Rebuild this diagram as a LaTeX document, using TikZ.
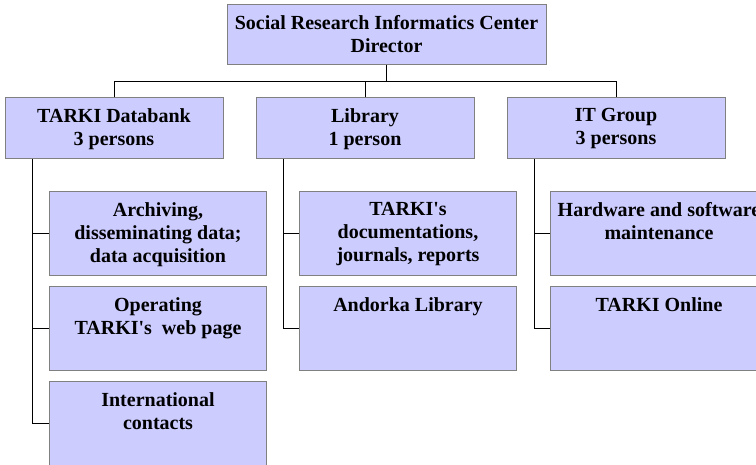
\documentclass[tikz,border=0pt]{standalone}
\usepackage{fontspec}
\setmainfont{Liberation Serif}
\definecolor{boxfill}{RGB}{204,204,255}
\definecolor{boxline}{RGB}{128,128,128}
\tikzset{
  unit/.style={draw=boxline, fill=boxfill, line width=1pt, minimum width=218pt, minimum height=61pt, inner sep=0pt},
  task/.style={unit, minimum width=217pt, minimum height=84pt},
  caption/.style={anchor=north, align=center, inner sep=0pt, yshift=-11.5pt, font=\fontsize{20}{23}\selectfont\bfseries},
  link/.style={line width=1pt, black}
}
\begin{document}
\begin{tikzpicture}[x=1pt, y=-1pt]
\clip (0,0) rectangle (756,464);
% head
\node[unit, minimum width=319pt, minimum height=60pt, label={[caption]north:Social Research Informatics Center\\Director}] (director) at (386.5,34) {};

% groups
\node[unit, label={[caption]north:TARKI Databank\\3 persons}] (databank) at (114,128) {};
\node[unit, label={[caption]north:Library\\1 person}] (library) at (365,128) {};
\node[unit, label={[caption]north:IT Group\\3 persons}] (itgroup) at (616,128) {};

% tasks
\node[task, label={[caption]north:{Archiving,\\disseminating data;\\data acquisition}}] (archiving) at (158,233) {};
\node[task, label={[caption]north:Operating\\TARKI\textquotesingle s~ web page}] (webpage) at (158,328) {};
\node[task, label={[caption]north:International\\contacts}] (contacts) at (158,423) {};
\node[task, label={[caption]north:{TARKI\textquotesingle s\\documentations,\\journals, reports}}] (docs) at (408,233) {};
\node[task, label={[caption]north:Andorka Library}] (andorka) at (408,328) {};
\node[task, label={[caption]north:Hardware and software\\maintenance}] (hardware) at (659,233) {};
\node[task, label={[caption]north:TARKI Online}] (online) at (659,328) {};

% connectors
\coordinate (bus) at (0,81);
\draw[link] (director.south) -- (director.south |- bus);
\draw[link] (databank.north) |- (itgroup.north |- bus) -- (itgroup.north);
\draw[link] (library.north) -- (library.north |- bus);

\coordinate (dbspine) at ([xshift=27.5pt]databank.south west);
\coordinate (libspine) at ([xshift=27.5pt]library.south west);
\coordinate (itspine) at ([xshift=27.5pt]itgroup.south west);
\draw[link] (dbspine) |- (archiving.west);
\draw[link] (dbspine) |- (webpage.west);
\draw[link] (dbspine) |- (contacts.west);
\draw[link] (libspine) |- (docs.west);
\draw[link] (libspine) |- (andorka.west);
\draw[link] (itspine) |- (hardware.west);
\draw[link] (itspine) |- (online.west);
\end{tikzpicture}
\end{document}
